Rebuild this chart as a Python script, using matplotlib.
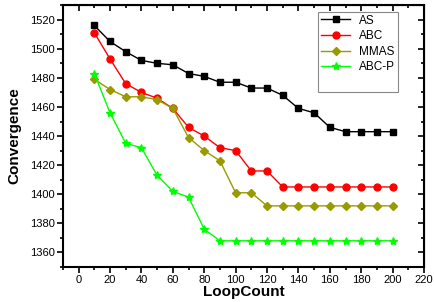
import numpy as np
import matplotlib.pyplot as plt
from matplotlib.ticker import MultipleLocator
from matplotlib.lines import Line2D

plt.rcParams['font.family'] = ['Liberation Sans', 'DejaVu Sans']

loops = [10, 20, 30, 40, 50, 60, 70, 80, 90, 100,
         110, 120, 130, 140, 150, 160, 170, 180, 190, 200]
as_vals = [1516, 1505, 1498, 1492, 1490, 1489, 1483, 1481, 1477, 1477,
           1473, 1473, 1468, 1459, 1456, 1446, 1443, 1443, 1443, 1443]
abc_vals = [1511, 1493, 1476, 1470, 1466, 1459, 1446, 1440, 1432, 1430,
            1416, 1416, 1405, 1405, 1405, 1405, 1405, 1405, 1405, 1405]
mmas_vals = [1479, 1472, 1467, 1467, 1465, 1459, 1439, 1430, 1423, 1401,
             1401, 1392, 1392, 1392, 1392, 1392, 1392, 1392, 1392, 1392]
abcp_vals = [1483, 1456, 1435, 1432, 1413, 1402, 1398, 1376, 1368, 1368,
             1368, 1368, 1368, 1368, 1368, 1368, 1368, 1368, 1368, 1368]

fig = plt.figure(figsize=(4.34, 3.02), dpi=100)
ax = fig.add_axes([0.145, 0.116, 0.832, 0.867])

ax.plot(loops, as_vals, '-s', color='black', lw=1, ms=4.5, label='AS')
ax.plot(loops, abc_vals, '-o', color='red', lw=1, ms=5, label='ABC')
ax.plot(loops, mmas_vals, '-D', color='#999900', lw=1, ms=4.3, label='MMAS')
ax.plot(loops, abcp_vals, '-*', color='#00ff00', lw=1, ms=6, label='ABC-P')

ax.set_xlim(-10, 220)
ax.set_ylim(1350, 1530)
ax.xaxis.set_minor_locator(MultipleLocator(10))
ax.yaxis.set_minor_locator(MultipleLocator(10))
ax.set_yticks(np.arange(1360, 1521, 20))
ax.set_xticks(np.arange(0, 221, 20))

ax.tick_params(axis='both', which='major', labelsize=8, length=4, width=1.2, pad=2)
ax.tick_params(axis='both', which='minor', length=2.5, width=1.2)
ax.tick_params(axis='both', which='both', direction='out')
for s in ax.spines.values():
    s.set_linewidth(1.5)

# inward ticks on top and right
axt = ax.secondary_xaxis('top')
axt.xaxis.set_major_locator(MultipleLocator(20))
axt.xaxis.set_minor_locator(MultipleLocator(10))
axt.tick_params(which='both', direction='in', labeltop=False)
axt.tick_params(which='major', length=4, width=1.2)
axt.tick_params(which='minor', length=2.5, width=1.2)
axr = ax.secondary_yaxis('right')
axr.yaxis.set_major_locator(MultipleLocator(20))
axr.yaxis.set_minor_locator(MultipleLocator(10))
axr.tick_params(which='both', direction='in', labelright=False)
axr.tick_params(which='major', length=4, width=1.2)
axr.tick_params(which='minor', length=2.5, width=1.2)

ax.set_xlabel('LoopCount', fontsize=11, fontweight='bold', labelpad=0)
ax.set_ylabel('Convergence', fontsize=11, fontweight='bold', labelpad=6)

handles, labels = ax.get_legend_handles_labels()
handles.append(Line2D([], [], color='none'))
labels.append(' ')
leg = ax.legend(handles, labels, loc='upper right', bbox_to_anchor=(0.927, 0.975),
                fontsize=8.5, fancybox=False, edgecolor='#888888', framealpha=1,
                handlelength=2.5, labelspacing=0.3, borderpad=0.25,
                handletextpad=0.7, borderaxespad=0)
leg.get_frame().set_linewidth(0.8)

fig.savefig('out.png', dpi=100)
